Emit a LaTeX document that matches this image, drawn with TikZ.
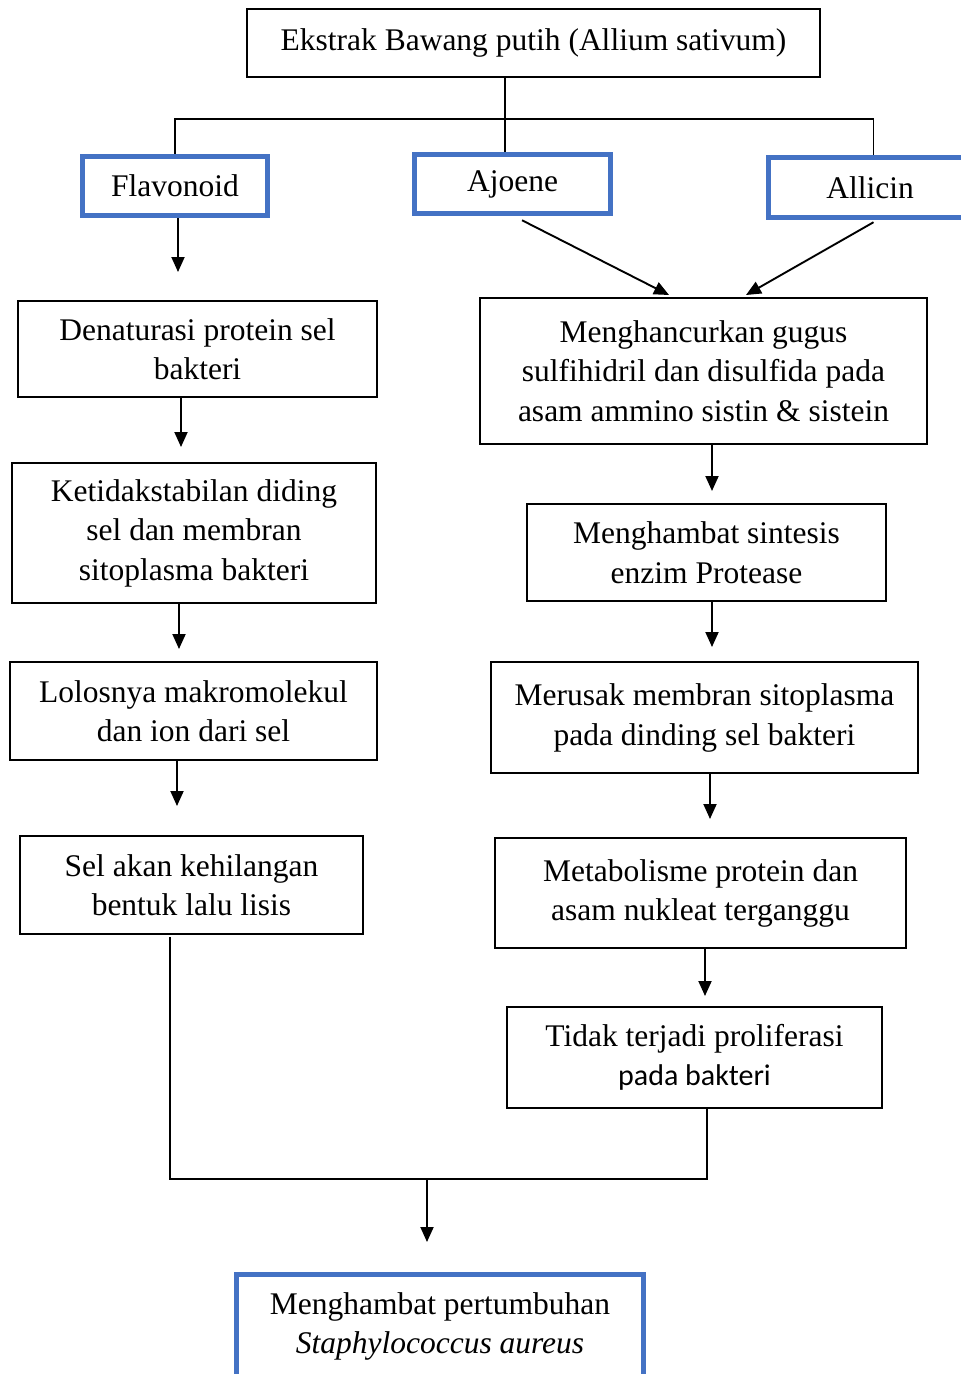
\documentclass[tikz,border=0pt]{standalone}
\usepackage{fontspec}
\setmainfont{Liberation Serif}
\newfontfamily\calibrifont{Carlito}
\usetikzlibrary{arrows.meta}
\definecolor{wordblue}{HTML}{4472C4}
\tikzset{
  txt/.style={align=center, inner sep=0pt, font=\fontsize{31.5}{39.5}\selectfont},
  bbox/.style={txt, draw=black, line width=1.6pt},
  bluebox/.style={txt, draw=wordblue, line width=5.5pt},
  conn/.style={line width=1.9pt},
  arr/.style={conn, -{Triangle[length=15pt,width=13pt]}},
}
\begin{document}
\begin{tikzpicture}[x=1pt,y=-1pt]
\useasboundingbox (0,0) rectangle (961,1374);
\clip (0,0) rectangle (961,1374);
% boxes
\node[bbox, minimum width=573pt, minimum height=68pt] (top) at (533.5,43) {Ekstrak Bawang putih (Allium sativum)};
\node[bluebox, minimum width=185pt, minimum height=59pt] (flav) at (175,186) {Flavonoid};
\node[bluebox, minimum width=196pt, minimum height=59pt] (ajo) at (512.5,184) {Ajoene};
\node[bluebox, minimum width=210pt, minimum height=60pt] (alli) at (873.5,187.5) {\hspace*{-7pt}Allicin};
\node[bbox, minimum width=359pt, minimum height=96pt] (den) at (197.5,349) {Denaturasi protein sel\\bakteri};
\node[bbox, minimum width=364pt, minimum height=140pt] (ket) at (194,533) {Ketidakstabilan diding\\sel dan membran\\sitoplasma bakteri};
\node[bbox, minimum width=367pt, minimum height=98pt] (lol) at (193.5,711) {Lolosnya makromolekul\\dan ion dari sel};
\node[bbox, minimum width=343pt, minimum height=98pt] (sel) at (191.5,885) {Sel akan kehilangan\\bentuk lalu lisis};
\node[bbox, minimum width=447pt, minimum height=146pt] (hanc) at (703.5,371) {Menghancurkan gugus\\sulfihidril dan disulfida pada\\asam ammino sistin \& sistein};
\node[bbox, minimum width=359pt, minimum height=97pt] (sint) at (706.5,552.5) {Menghambat sintesis\\enzim Protease};
\node[bbox, minimum width=427pt, minimum height=111pt] (rus) at (704.5,717.5) {\raisebox{6pt}{\begin{tabular}{@{}c@{}}Merusak membran sitoplasma\\pada dinding sel bakteri\end{tabular}}};
\node[bbox, minimum width=411pt, minimum height=110pt] (meta) at (700.5,893) {\raisebox{5pt}{\begin{tabular}{@{}c@{}}Metabolisme protein dan\\asam nukleat terganggu\end{tabular}}};
\node[bbox, minimum width=375pt, minimum height=101pt] (tid) at (694.5,1057.5) {Tidak terjadi proliferasi\\{\calibrifont\fontsize{30}{39.5}\selectfont pada bakteri}};
\node[bluebox, minimum width=407pt, minimum height=104pt] (fin) at (440,1326.5) {Menghambat pertumbuhan\\\textit{Staphylococcus aureus}};
% tree at top
\coordinate (bar) at (0,119);
\draw[conn] ([xshift=-28.5pt]top.south) -- ([xshift=-7.5pt]ajo.north);
\draw[conn] (flav.north) -- (flav.north |- bar) -- (alli.north |- bar) -- (alli.north);
% arrow ends
\coordinate (t1) at (178,272);
\coordinate (t2) at (181,447);
\coordinate (t3) at (179,649);
\coordinate (t4) at (177,806);
\coordinate (t5) at (669,295);
\coordinate (t6) at (746,295);
\coordinate (t7) at (712,491);
\coordinate (t8) at (712,647);
\coordinate (t9) at (710,819);
\coordinate (t10) at (705,996);
\coordinate (jl) at (170,1179);
\coordinate (jr) at (707,1179);
\coordinate (j) at (427,1179);
\coordinate (t11) at (427,1242);
% arrows
\draw[arr] (flav.south -| t1) -- (t1);
\draw[arr] (den.south -| t2) -- (t2);
\draw[arr] (ket.south -| t3) -- (t3);
\draw[arr] (lol.south -| t4) -- (t4);
\draw[arr] ([xshift=9.5pt,yshift=-4pt]ajo.south) -- (t5);
\draw[arr] ([yshift=-2pt]alli.south) -- (t6);
\draw[arr] (hanc.south -| t7) -- (t7);
\draw[arr] (sint.south -| t8) -- (t8);
\draw[arr] (rus.south -| t9) -- (t9);
\draw[arr] (meta.south -| t10) -- (t10);
\draw[conn] ([yshift=-2pt]sel.south -| jl) -- (jl) -- (jr) -- (tid.south -| jr);
\draw[arr] (j) -- (t11);
\end{tikzpicture}
\end{document}
